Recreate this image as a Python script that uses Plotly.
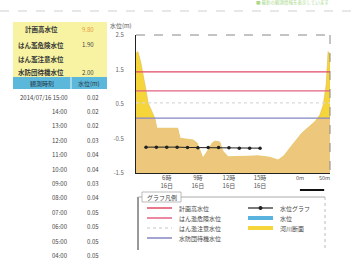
import plotly.graph_objects as go

W, H = 354, 264
FONT = "Noto Sans CJK JP"

# ---------------- data ----------------
threshold_names = ["計画高水位", "はん濫危険水位", "はん濫注意水位", "水防団待機水位"]
threshold_values = ["9.80", "1.90", "", "2.00"]
threshold_elev = [1.43, 0.88, 0.53, 0.09]

obs_date = "2014/07/16"
obs_times = ["15:00", "14:00", "13:00", "12:00", "11:00", "10:00",
             "09:00", "08:00", "07:00", "06:00", "05:00", "04:00"]
obs_levels = [0.02, 0.02, 0.02, 0.03, 0.04, 0.04,
              0.03, 0.04, 0.05, 0.05, 0.05, 0.05]
gauge_datum = -0.80

section_dist = [0, 4, 10, 14, 21, 25, 39, 43, 86, 91, 118, 126, 132, 138, 146,
                157, 163, 173, 179, 190, 252, 276, 293, 305, 318, 342, 369,
                379, 386, 392, 396, 400]
section_elev = [1.97, 2.02, 1.70, 1.43, 0.88, 0.53, 0.09, -0.20, -0.20, -0.49,
                -0.54, -0.63, -0.83, -1.06, -0.89, -0.63, -0.57, -0.60, -0.86,
                -1.03, -1.00, -1.04, -1.12, -1.00, -0.76, -0.34, -0.01, 0.18,
                0.47, 1.05, 2.02, 1.95]

y_ticks = [2.5, 1.5, 0.5, -0.5, -1.5]
time_range = ["2014-07-16 03:02", "2014-07-16 21:45"]
time_ticks = ["2014-07-16 06:00", "2014-07-16 09:00", "2014-07-16 12:00", "2014-07-16 15:00"]
time_tick_text = ["6時<br>16日", "9時<br>16日", "12時<br>16日", "15時<br>16日"]
scale_len_m = 50
legend_left = ["計画高水位", "はん濫危険水位", "はん濫注意水位", "水防団待機水位"]
legend_right = ["水位グラフ", "水位", "河川断面"]

# ---------------- styles ----------------
line_colors = ["#e04a66", "#e26283", "#d9d9d9", "#8686c4"]
line_dash = ["solid", "solid", "dot", "solid"]
YELLOW = "#f6d53a"
TAN = "#edc87c"
BLUE = "#5ab3de"


def fx(x):
    return x / W


def fy(y):
    return 1 - y / H


fig = go.Figure()
n = len(section_dist)
x_lo, x_hi = min(section_dist), max(section_dist)
ybot = min(y_ticks)
water_elev = obs_levels[0] + gauge_datum

fig.add_trace(go.Scatter(x=section_dist, y=[ybot] * n, mode="none",
                         hoverinfo="skip", showlegend=False))
fig.add_trace(go.Scatter(x=section_dist, y=[water_elev] * n, mode="none",
                         fill="tonexty", fillcolor=BLUE, showlegend=False))
fig.add_trace(go.Scatter(x=section_dist + [x_hi, x_lo],
                         y=section_elev + [ybot, ybot], mode="lines",
                         fill="toself", fillcolor=YELLOW,
                         line=dict(color="#d8b450", width=0.5), showlegend=False))
clip = threshold_elev[3]
fig.add_trace(go.Scatter(x=section_dist + [x_hi, x_lo],
                         y=[min(e, clip) for e in section_elev] + [ybot, ybot],
                         mode="none", fill="toself", fillcolor=TAN, showlegend=False))
for e, c, d in zip(threshold_elev, line_colors, line_dash):
    fig.add_trace(go.Scatter(x=[x_lo, x_hi], y=[e, e], mode="lines",
                             line=dict(color=c, width=1.3, dash=d), showlegend=False))

series_x = ["2014-07-16 " + t for t in obs_times]
series_y = [v + gauge_datum for v in obs_levels]
fig.add_trace(go.Scatter(x=series_x, y=series_y, xaxis="x2", mode="lines+markers",
                         line=dict(color="#222", width=1),
                         marker=dict(color="#222", size=3.5), showlegend=False))

shapes = []
ann = []

# plot frame (dashed top/right)
shapes.append(dict(type="line", xref="paper", yref="paper", x0=fx(136), x1=fx(330),
                   y0=fy(35), y1=fy(35), line=dict(color="#888", width=1, dash="dash")))
shapes.append(dict(type="line", xref="paper", yref="paper", x0=fx(330), x1=fx(330),
                   y0=fy(35), y1=fy(173), line=dict(color="#888", width=1, dash="dash")))
# page header dashed line
shapes.append(dict(type="line", xref="paper", yref="paper", x0=0, x1=1,
                   y0=fy(11), y1=fy(11), line=dict(color="#cfcfcf", width=1, dash="dash")))
ann.append(dict(x=fx(292), y=fy(2.5), xref="paper", yref="paper", showarrow=False,
                text="■ 最新の観測情報を表示しています", font=dict(size=4.5, color="#a8d98a", family=FONT),
                xanchor="center", yanchor="middle"))

# y-axis title
ann.append(dict(x=fx(121), y=fy(25), xref="paper", yref="paper", showarrow=False,
                text="水位(m)", font=dict(size=6, color="#555", family=FONT),
                xanchor="center", yanchor="middle"))

# scale bar
d0 = 338
shapes.append(dict(type="line", xref="x", yref="paper", x0=d0, x1=d0 + scale_len_m,
                   y0=fy(190), y1=fy(190), line=dict(color="#111", width=2)))
ann.append(dict(x=d0, y=fy(184), xref="x", yref="paper", showarrow=False, text="0m",
                font=dict(size=5.5, color="#555", family=FONT), xanchor="center"))
ann.append(dict(x=d0 + scale_len_m, y=fy(184), xref="x", yref="paper", showarrow=False,
                text=f"{scale_len_m}m", font=dict(size=5.5, color="#555", family=FONT),
                xanchor="center"))

# left table
shapes.append(dict(type="rect", xref="paper", yref="paper", x0=fx(13), x1=fx(107),
                   y0=fy(77), y1=fy(22), fillcolor="#f7f3a3", line=dict(width=0), layer="below"))
shapes.append(dict(type="rect", xref="paper", yref="paper", x0=fx(13), x1=fx(107),
                   y0=fy(89), y1=fy(77), fillcolor="#5cb8da", line=dict(width=0), layer="below"))
shapes.append(dict(type="line", xref="paper", yref="paper", x0=fx(71), x1=fx(71),
                   y0=fy(89), y1=fy(77), line=dict(color="#e8f6fb", width=1)))
row_y = [29, 45, 59, 72]
for name, val, yy in zip(threshold_names, threshold_values, row_y):
    ann.append(dict(x=fx(41), y=fy(yy), xref="paper", yref="paper", showarrow=False,
                    text=f"<b>{name}</b>", font=dict(size=6.5, color="#333", family=FONT),
                    xanchor="center", yanchor="middle"))
    if val:
        ann.append(dict(x=fx(88), y=fy(yy), xref="paper", yref="paper", showarrow=False,
                        text=val, font=dict(size=6, color="#e89a3c" if yy == 29 else "#444",
                                            family=FONT),
                        xanchor="center", yanchor="middle"))
ann.append(dict(x=fx(42), y=fy(83), xref="paper", yref="paper", showarrow=False,
                text="観測時刻", font=dict(size=6, color="#234", family=FONT),
                xanchor="center", yanchor="middle"))
ann.append(dict(x=fx(89), y=fy(83), xref="paper", yref="paper", showarrow=False,
                text="水位(m)", font=dict(size=6, color="#234", family=FONT),
                xanchor="center", yanchor="middle"))
for i, (t, v) in enumerate(zip(obs_times, obs_levels)):
    yy = 97 + i * 14.4
    label = f"{obs_date} {t}" if i == 0 else t
    ann.append(dict(x=fx(70), y=fy(yy), xref="paper", yref="paper", showarrow=False,
                    text=label, font=dict(size=6, color="#444", family=FONT),
                    xanchor="right", yanchor="middle"))
    ann.append(dict(x=fx(93), y=fy(yy), xref="paper", yref="paper", showarrow=False,
                    text=f"{v:.2f}", font=dict(size=6, color="#444", family=FONT),
                    xanchor="center", yanchor="middle"))

# legend box
shapes.append(dict(type="line", xref="paper", yref="paper", x0=fx(138), x1=fx(138),
                   y0=fy(197), y1=fy(250), line=dict(color="#333", width=1)))
shapes.append(dict(type="line", xref="paper", yref="paper", x0=fx(138), x1=fx(325),
                   y0=fy(197), y1=fy(197), line=dict(color="#aaa", width=1)))
shapes.append(dict(type="line", xref="paper", yref="paper", x0=fx(325), x1=fx(325),
                   y0=fy(197), y1=fy(250), line=dict(color="#bbb", width=1, dash="dot")))
shapes.append(dict(type="rect", xref="paper", yref="paper", x0=fx(142), x1=fx(181),
                   y0=fy(202), y1=fy(192), fillcolor="white", line=dict(color="#aaa", width=0.8)))
ann.append(dict(x=fx(161.5), y=fy(197), xref="paper", yref="paper", showarrow=False,
                text="グラフ凡例", font=dict(size=6, color="#444", family=FONT),
                xanchor="center", yanchor="middle"))
for i, (name, c, d) in enumerate(zip(legend_left, line_colors, line_dash)):
    yy = 208 + i * 10
    shapes.append(dict(type="line", xref="paper", yref="paper", x0=fx(147), x1=fx(172),
                       y0=fy(yy), y1=fy(yy), line=dict(color=c, width=1.5, dash=d)))
    ann.append(dict(x=fx(177), y=fy(yy), xref="paper", yref="paper", showarrow=False,
                    text=name, font=dict(size=6, color="#444", family=FONT),
                    xanchor="left", yanchor="middle"))
right_styles = [("#222", 1.2), (BLUE, 4), (YELLOW, 4)]
for i, (name, (c, w)) in enumerate(zip(legend_right, right_styles)):
    yy = 208 + i * 10
    shapes.append(dict(type="line", xref="paper", yref="paper", x0=fx(248), x1=fx(273),
                       y0=fy(yy), y1=fy(yy), line=dict(color=c, width=w)))
    if i == 0:
        shapes.append(dict(type="circle", xref="paper", yref="paper",
                           x0=fx(258.5), x1=fx(262.5), y0=fy(yy + 2), y1=fy(yy - 2),
                           fillcolor="#222", line=dict(width=0)))
    ann.append(dict(x=fx(278), y=fy(yy), xref="paper", yref="paper", showarrow=False,
                    text=name, font=dict(size=6, color="#444", family=FONT),
                    xanchor="left", yanchor="middle"))

fig.update_layout(
    width=W, height=H, margin=dict(l=0, r=0, t=0, b=0, autoexpand=False),
    paper_bgcolor="white", plot_bgcolor="white", showlegend=False,
    font=dict(family=FONT, size=6, color="#555"),
    xaxis=dict(domain=[fx(136), fx(330)], range=[x_lo, x_hi], showticklabels=False,
               showgrid=False, zeroline=False, showline=True, linecolor="#222",
               linewidth=1, ticks="", automargin=False),
    xaxis2=dict(overlaying="x", anchor="y", type="date", range=time_range,
                tickvals=time_ticks, ticktext=time_tick_text, showgrid=False,
                zeroline=False, showline=False, ticks="", automargin=False,
                tickfont=dict(size=6, color="#555", family=FONT)),
    yaxis=dict(domain=[fy(173), fy(35)], range=[ybot, max(y_ticks)], tickvals=y_ticks,
               ticktext=[f"{v:.1f}" for v in y_ticks], showgrid=False, zeroline=False,
               showline=True, linecolor="#222", linewidth=1, ticks="", automargin=False,
               ticklabelstandoff=10, tickfont=dict(size=6, color="#666", family=FONT)),
    shapes=shapes, annotations=ann,
)

fig.write_html("out.html", config={"displayModeBar": False},
               post_script="document.body.style.margin='0';document.body.style.overflow='hidden';")
